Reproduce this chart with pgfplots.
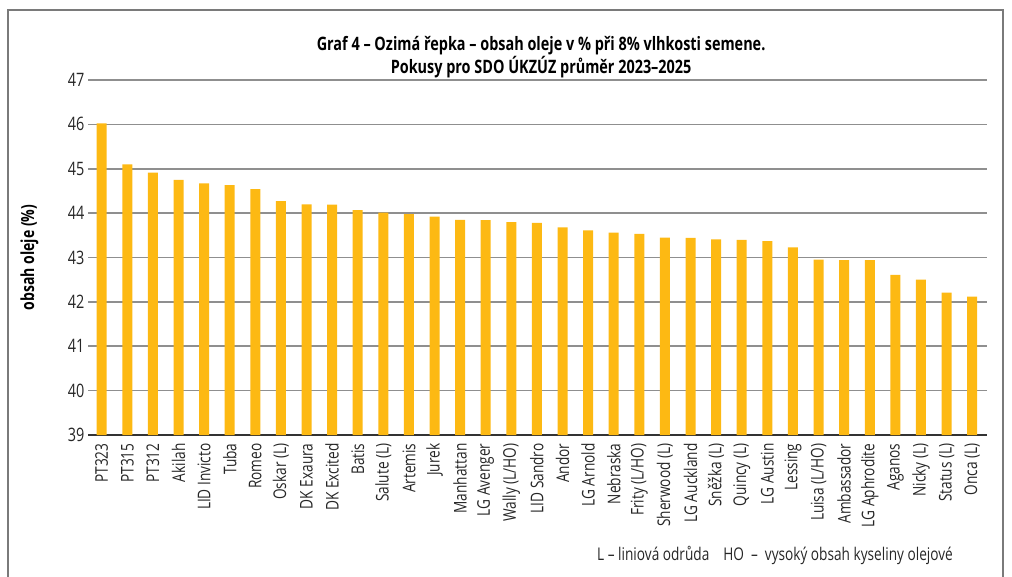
\documentclass[border=0pt]{standalone}
\usepackage{fontspec}
\setmainfont{Open Sans}[FakeStretch=0.78]
\usepackage{pgfplots}
\usepackage{pgfplotstable}
\pgfplotsset{compat=1.18}
\definecolor{barc}{HTML}{FDB913}
\definecolor{gridc}{HTML}{8F8F8F}
\definecolor{framec}{HTML}{7A7A7A}

% obsah oleje (%) podle odrud
\pgfplotstableread{
idx val
0 46.02
1 45.10
2 44.91
3 44.75
4 44.67
5 44.63
6 44.54
7 44.27
8 44.20
9 44.19
10 44.07
11 44.01
12 43.98
13 43.92
14 43.85
15 43.84
16 43.80
17 43.78
18 43.68
19 43.61
20 43.56
21 43.53
22 43.45
23 43.44
24 43.41
25 43.40
26 43.37
27 43.23
28 42.95
29 42.94
30 42.94
31 42.61
32 42.50
33 42.21
34 42.12
}\oil

\begin{document}
\begin{tikzpicture}[font=\fontsize{17.5}{20}\selectfont]
\useasboundingbox (0pt,0pt) rectangle (1012pt,576pt);
\draw[framec, line width=2pt] (8pt,-5pt) -- (8pt,566pt) -- (1003pt,566pt) -- (1003pt,-5pt);
\begin{axis}[
  at={(88pt,141pt)}, anchor=south west,
  scale only axis, width=899pt, height=355pt,
  ybar, bar width=10pt,
  xmin=-0.535, xmax=34.58,
  ymin=39, ymax=47, ytick={39,...,47},
  xtick=data,
  xticklabels={PT323,PT315,PT312,Akilah,LID Invicto,Tuba,Romeo,Oskar (L),DK Exaura,DK Excited,Batis,Salute (L),Artemis,Jurek,Manhattan,LG Avenger,Wally (L/HO),LID Sandro,Andor,LG Arnold,Nebraska,Frity (L/HO),Sherwood (L),LG Auckland,Sněžka (L),Quincy (L),LG Austin,Lessing,Luisa (L/HO),Ambassador,LG Aphrodite,Aganos,Nicky (L),Status (L),Onca (L)},
  xticklabel style={rotate=90, anchor=east, font=\fontsize{17.5}{20}\selectfont, color=black!85},
  xticklabel shift=5pt,
  yticklabel style={font=\fontsize{18.5}{20}\selectfont, color=black!85},
  /pgf/number format/assume math mode=true,
  major tick length=0pt,
  axis x line*=bottom, axis y line*=left,
  x axis line style={draw=black!80, line width=2.2pt, -},
  y axis line style={draw=none},
  ymajorgrids, grid style={gridc, line width=1.6pt},
  title={Graf 4 – Ozimá řepka – obsah oleje v \% při 8\% vlhkosti semene.\\Pokusy pro SDO ÚKZÚZ průměr 2023–2025},
  title style={at={(axis description cs:0.504,1)}, anchor=south, align=center, yshift=-7pt, font=\bfseries\fontsize{18.5}{23}\selectfont},
  ylabel={obsah oleje (\%)},
  every axis y label/.style={at={(axis description cs:-0.065,0.5)}, anchor=center, rotate=90, font=\bfseries\fontsize{18}{20}\selectfont},
]
\addplot[fill=barc, draw=none] table[x=idx, y=val]{\oil};
\end{axis}
\node[anchor=center, color=black!85] at (775pt,21pt) {L – liniová odrůda\hspace{0.8em}HO\hspace{0.4em}–\hspace{0.4em}vysoký obsah kyseliny olejové};
\end{tikzpicture}
\end{document}
